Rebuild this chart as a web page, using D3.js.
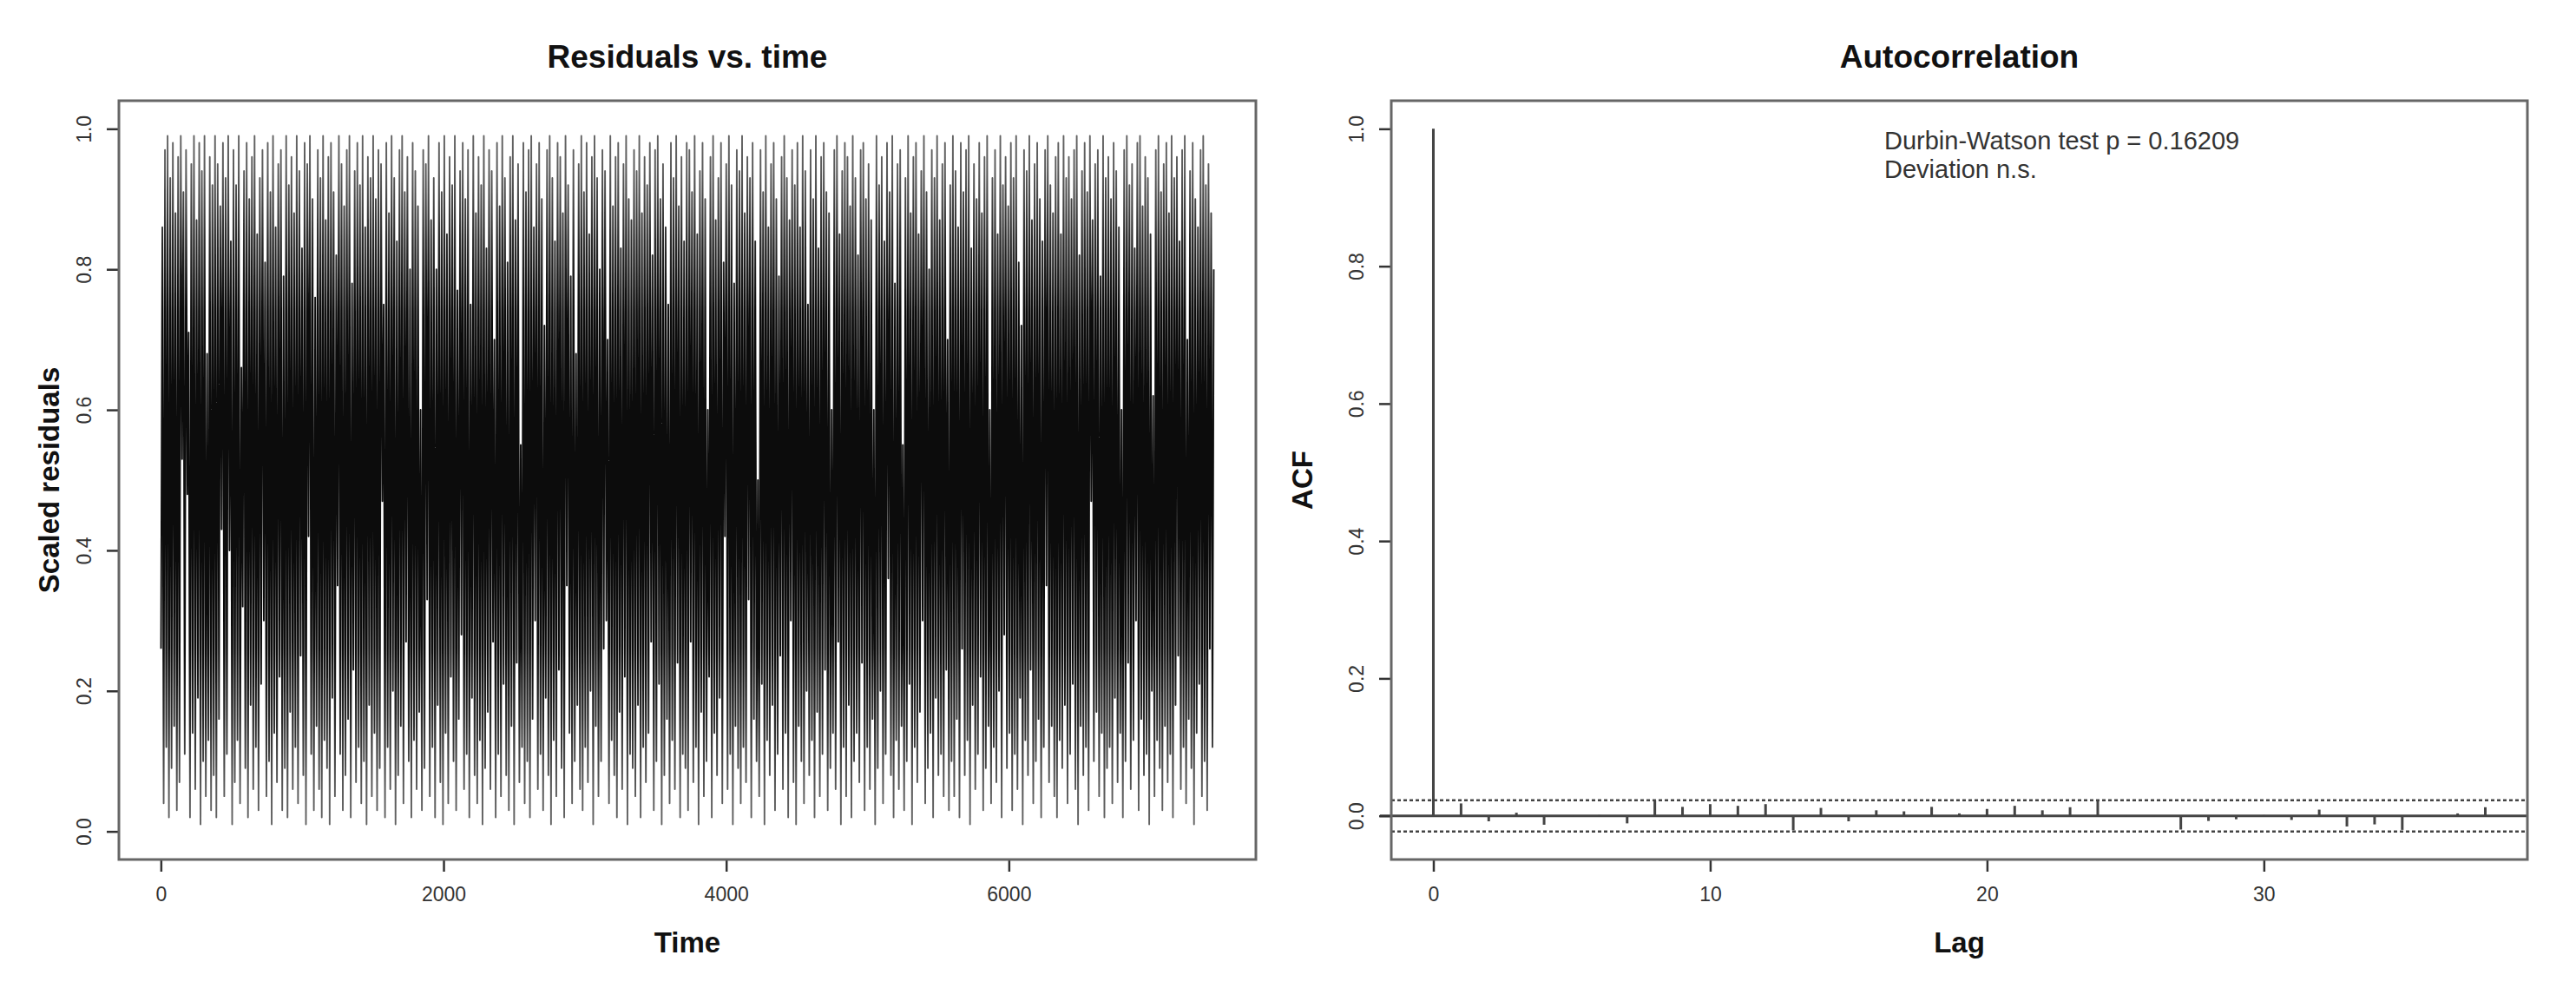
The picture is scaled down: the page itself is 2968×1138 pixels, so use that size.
<!DOCTYPE html>
<html><head><meta charset="utf-8">
<script src="https://cdn.jsdelivr.net/npm/d3@7"></script>
<style>
body{margin:0;background:#fff}
svg{display:block}
text{font-family:"Liberation Sans",Arial,Helvetica,sans-serif}
</style>
</head><body>
<svg id="chart" width="2968" height="1138"></svg>
<script>
// ---------------- data ----------------
const nObs = 7450;
// upper and lower excursions of the residual series, read per time slice (400 slices)
const residualHigh = [
0.86,0.97,0.99,0.93,0.98,0.88,0.96,0.99,0.91,0.97,0.71,0.95,0.99,0.87,0.98,0.94,0.99,0.68,0.96,0.92,
0.99,0.95,0.89,0.98,0.93,0.99,0.84,0.97,0.92,0.99,0.66,0.94,0.98,0.90,0.96,0.99,0.85,0.93,0.97,0.81,
0.98,0.91,0.99,0.86,0.95,0.97,0.79,0.99,0.92,0.96,0.88,0.99,0.94,0.83,0.98,0.95,0.99,0.90,0.76,0.97,
0.93,0.99,0.87,0.96,0.98,0.91,0.82,0.99,0.95,0.89,0.97,0.99,0.78,0.94,0.98,0.92,0.99,0.86,0.96,0.93,
0.99,0.90,0.97,0.95,0.75,0.98,0.88,0.99,0.93,0.84,0.97,0.99,0.91,0.96,0.80,0.98,0.94,0.89,0.60,0.97,
0.95,0.99,0.87,0.93,0.80,0.98,0.91,0.99,0.85,0.96,0.92,0.99,0.77,0.94,0.98,0.90,0.97,0.75,0.99,0.88,
0.96,0.92,0.99,0.83,0.97,0.94,0.70,0.98,0.89,0.99,0.93,0.81,0.96,0.99,0.87,0.95,0.55,0.98,0.91,0.97,
0.99,0.86,0.95,0.98,0.90,0.72,0.97,0.99,0.93,0.84,0.98,0.96,0.88,0.99,0.92,0.79,0.97,0.68,0.95,0.99,
0.91,0.98,0.85,0.96,0.99,0.93,0.80,0.97,0.94,0.70,0.99,0.89,0.96,0.98,0.83,0.95,0.99,0.90,0.87,0.97,
0.94,0.99,0.88,0.96,0.92,0.98,0.82,0.97,0.99,0.90,0.95,0.86,0.75,0.98,0.93,0.99,0.89,0.96,0.84,0.98,
0.97,0.91,0.99,0.85,0.94,0.98,0.90,0.60,0.96,0.99,0.87,0.93,0.98,0.81,0.95,0.99,0.92,0.78,0.97,0.94,
0.99,0.88,0.96,0.93,0.98,0.84,0.50,0.97,0.91,0.99,0.86,0.95,0.98,0.90,0.79,0.96,0.99,0.93,0.87,0.97,
0.92,0.98,0.86,0.99,0.94,0.75,0.97,0.90,0.99,0.83,0.96,0.98,0.91,0.88,0.60,0.97,0.99,0.85,0.94,0.98,
0.96,0.89,0.99,0.93,0.82,0.97,0.98,0.90,0.95,0.87,0.60,0.99,0.92,0.96,0.84,0.98,0.91,0.99,0.78,0.95,
0.97,0.55,0.93,0.99,0.88,0.96,0.98,0.85,0.94,0.99,0.91,0.80,0.97,0.93,0.99,0.87,0.95,0.98,0.70,0.92,
0.99,0.94,0.86,0.98,0.91,0.97,0.99,0.83,0.95,0.90,0.98,0.88,0.96,0.99,0.60,0.93,0.97,0.85,0.99,0.92,
0.96,0.89,0.98,0.93,0.99,0.81,0.72,0.97,0.94,0.99,0.87,0.95,0.98,0.90,0.84,0.97,0.99,0.92,0.88,0.96,
0.98,0.85,0.99,0.93,0.96,0.90,0.97,0.99,0.82,0.94,0.98,0.91,0.99,0.87,0.95,0.97,0.79,0.99,0.93,0.96,
0.90,0.98,0.94,0.86,0.60,0.97,0.99,0.92,0.95,0.83,0.98,0.99,0.89,0.96,0.93,0.85,0.62,0.97,0.99,0.91,
0.95,0.98,0.88,0.99,0.93,0.96,0.84,0.97,0.99,0.70,0.94,0.98,0.90,0.86,0.97,0.99,0.92,0.95,0.88,0.80
];
const residualLow = [
0.26,0.04,0.12,0.02,0.09,0.15,0.03,0.07,0.53,0.11,0.48,0.02,0.14,0.06,0.19,0.01,0.10,0.05,0.13,0.03,
0.08,0.02,0.16,0.43,0.05,0.11,0.40,0.01,0.07,0.13,0.04,0.32,0.09,0.02,0.18,0.06,0.12,0.03,0.21,0.30,
0.05,0.10,0.01,0.14,0.07,0.22,0.03,0.09,0.02,0.17,0.06,0.12,0.04,0.25,0.08,0.01,0.42,0.11,0.03,0.15,
0.06,0.02,0.13,0.09,0.01,0.19,0.05,0.35,0.11,0.03,0.08,0.16,0.02,0.23,0.07,0.12,0.04,0.10,0.01,0.18,
0.05,0.14,0.03,0.09,0.47,0.02,0.12,0.06,0.20,0.01,0.08,0.15,0.04,0.27,0.10,0.02,0.13,0.06,0.17,0.03,
0.09,0.33,0.05,0.12,0.02,0.18,0.07,0.01,0.14,0.04,0.22,0.10,0.03,0.16,0.28,0.06,0.11,0.02,0.19,0.08,
0.04,0.13,0.01,0.09,0.17,0.06,0.27,0.02,0.11,0.05,0.21,0.08,0.03,0.15,0.01,0.24,0.07,0.12,0.04,0.10,
0.02,0.16,0.30,0.06,0.11,0.03,0.19,0.08,0.01,0.13,0.05,0.23,0.09,0.02,0.35,0.14,0.04,0.10,0.18,0.06,
0.03,0.12,0.07,0.20,0.01,0.15,0.05,0.10,0.26,0.30,0.04,0.13,0.08,0.02,0.17,0.06,0.22,0.01,0.11,0.09,
0.05,0.18,0.02,0.12,0.07,0.14,0.27,0.03,0.10,0.21,0.01,0.08,0.16,0.04,0.13,0.06,0.24,0.02,0.11,0.09,
0.03,0.27,0.07,0.12,0.01,0.17,0.05,0.10,0.22,0.02,0.14,0.08,0.19,0.04,0.42,0.06,0.11,0.01,0.15,0.09,
0.04,0.12,0.07,0.33,0.02,0.16,0.10,0.05,0.21,0.01,0.13,0.08,0.18,0.03,0.11,0.25,0.06,0.14,0.02,0.30,
0.07,0.01,0.15,0.10,0.04,0.20,0.08,0.13,0.02,0.17,0.05,0.11,0.23,0.03,0.09,0.14,0.06,0.27,0.01,0.12,
0.05,0.18,0.02,0.10,0.14,0.07,0.24,0.03,0.12,0.06,0.16,0.01,0.09,0.20,0.04,0.11,0.36,0.08,0.02,0.13,
0.06,0.15,0.03,0.10,0.21,0.01,0.12,0.07,0.17,0.30,0.04,0.09,0.14,0.02,0.19,0.08,0.11,0.05,0.23,0.03,
0.10,0.05,0.16,0.02,0.26,0.08,0.13,0.01,0.18,0.06,0.11,0.22,0.03,0.09,0.15,0.04,0.12,0.07,0.20,0.02,
0.28,0.09,0.14,0.03,0.11,0.06,0.19,0.01,0.13,0.08,0.23,0.04,0.10,0.16,0.02,0.12,0.35,0.07,0.15,0.05,
0.02,0.13,0.09,0.18,0.04,0.11,0.21,0.06,0.01,0.15,0.08,0.12,0.03,0.47,0.10,0.17,0.05,0.14,0.02,0.09,
0.12,0.04,0.19,0.07,0.14,0.02,0.10,0.24,0.06,0.13,0.30,0.03,0.16,0.08,0.11,0.01,0.20,0.05,0.13,0.09,
0.03,0.15,0.07,0.11,0.02,0.18,0.25,0.06,0.12,0.04,0.16,0.09,0.01,0.14,0.21,0.05,0.10,0.03,0.26,0.12
];
const acfLags = [0,1,2,3,4,5,6,7,8,9,10,11,12,13,14,15,16,17,18,19,20,21,22,23,24,25,26,27,28,29,30,31,32,33,34,35,36,37,38];
const acfValues = [1.000,0.018,-0.008,0.0045,-0.013,-0.0015,0.001,-0.011,0.0225,0.013,0.017,0.0145,0.017,-0.021,
0.0115,-0.008,0.008,0.0065,0.013,0.0035,0.010,0.0145,0.008,0.0125,0.0215,-0.0012,-0.0015,-0.020,-0.0075,-0.005,
0.001,-0.006,0.009,-0.0155,-0.0125,-0.0205,0.0005,0.0035,0.0125];
const timeTicks = [0,2000,4000,6000];
const residualTicks = [0,0.2,0.4,0.6,0.8,1.0];
const lagTicks = [0,10,20,30];
const acfTicks = [0,0.2,0.4,0.6,0.8,1.0];
const dwLines = ["Durbin-Watson test p = 0.16209","Deviation n.s."];
const leftTitle = "Residuals vs. time", rightTitle = "Autocorrelation";
const leftXLabel = "Time", leftYLabel = "Scaled residuals", rightXLabel = "Lag", rightYLabel = "ACF";

// ---------------- layout ----------------
const svg = d3.select("#chart");
const L = {x0:137, x1:1447, y0:116, y1:990};
const R = {x0:1603, x1:2912, y0:116, y1:990};
const boxColor = "#666", inkColor = "#333";

// residual series (alternating low / high excursions over time)
const series = [];
residualHigh.forEach((h,i)=>{ series.push(residualLow[i]); series.push(h); });
const nPts = series.length;
const seriesData = series.map((v,j)=>({t: 1 + j*(nObs-1)/(nPts-1), v}));

const padT = 0.04*(nObs-1);
const xL = d3.scaleLinear().domain([1-padT, nObs+padT]).range([L.x0, L.x1]);
const yL = d3.scaleLinear().domain([-0.04, 1.04]).range([L.y1, L.y0]);

const conf = 1.96/Math.sqrt(nObs);
const acfLo = Math.min(-conf, d3.min(acfValues)), acfHi = Math.max(conf, d3.max(acfValues));
const acfPad = 0.04*(acfHi-acfLo);
const lagPad = 0.04*(d3.max(acfLags)-d3.min(acfLags));
const xR = d3.scaleLinear().domain([d3.min(acfLags)-lagPad, d3.max(acfLags)+lagPad]).range([R.x0, R.x1]);
const yR = d3.scaleLinear().domain([acfLo-acfPad, acfHi+acfPad]).range([R.y1, R.y0]);

// ---------------- left panel ----------------
// vertical shading of the dense trace: solid in the middle, greyer at the extremes (as in the blurred original)
const defs = svg.append("defs");
const grad = defs.append("linearGradient").attr("id","resGrad").attr("gradientUnits","userSpaceOnUse")
  .attr("x1",0).attr("x2",0).attr("y1",yL(1.04)).attr("y2",yL(-0.04));
const shade = [[1.04,"#6a6a6a"],[0.94,"#5a5a5a"],[0.84,"#2a2a2a"],[0.74,"#0c0c0c"],[0.26,"#0c0c0c"],[0.16,"#2a2a2a"],[0.06,"#5a5a5a"],[-0.04,"#6a6a6a"]];
grad.selectAll("stop").data(shade).join("stop")
  .attr("offset",d=>(yL(d[0])-yL(1.04))/(yL(-0.04)-yL(1.04))).attr("stop-color",d=>d[1]);

const gL = svg.append("g");
gL.append("path").datum(seriesData)
  .attr("fill","none").attr("stroke","url(#resGrad)").attr("stroke-width",1.9).attr("stroke-linejoin","round")
  .attr("d", d3.line().x(d=>xL(d.t)).y(d=>yL(d.v)));

function styleAxis(g){
  g.select(".domain").remove();
  g.selectAll(".tick line").attr("stroke",inkColor).attr("stroke-width",2.5);
  g.selectAll(".tick text").attr("fill",inkColor).style("font-size","23px");
}
const axLB = gL.append("g").attr("transform",`translate(0,${L.y1})`)
  .call(d3.axisBottom(xL).tickValues(timeTicks).tickSize(14).tickFormat(d3.format("d")));
styleAxis(axLB); axLB.selectAll(".tick text").attr("y",48).attr("dy",0);
const axLL = gL.append("g").attr("transform",`translate(${L.x0},0)`)
  .call(d3.axisLeft(yL).tickValues(residualTicks).tickSize(14).tickFormat(d3.format(".1f")));
styleAxis(axLL);
axLL.selectAll(".tick text").attr("x",0).attr("y",-32).attr("dy",0).attr("text-anchor","middle").attr("transform","rotate(-90)");

gL.append("rect").attr("x",L.x0).attr("y",L.y0).attr("width",L.x1-L.x0).attr("height",L.y1-L.y0)
  .attr("fill","none").attr("stroke",boxColor).attr("stroke-width",3);

gL.append("text").attr("x",(L.x0+L.x1)/2).attr("y",78).attr("text-anchor","middle")
  .style("font-size","37px").style("font-weight","bold").attr("fill","#111").text(leftTitle);
gL.append("text").attr("x",(L.x0+L.x1)/2).attr("y",1097).attr("text-anchor","middle")
  .style("font-size","33px").style("font-weight","bold").attr("fill","#111").text(leftXLabel);
gL.append("text").attr("transform",`translate(68,${(L.y0+L.y1)/2}) rotate(-90)`).attr("text-anchor","middle")
  .style("font-size","33px").style("font-weight","bold").attr("fill","#111").text(leftYLabel);

// ---------------- right panel ----------------
const gR = svg.append("g");
gR.selectAll("line.conf").data([conf,-conf]).join("line").attr("class","conf")
  .attr("x1",R.x0).attr("x2",R.x1).attr("y1",d=>yR(d)).attr("y2",d=>yR(d))
  .attr("stroke","#444").attr("stroke-width",2.5).attr("stroke-dasharray","4,3");
gR.append("line").attr("x1",R.x0-13).attr("x2",R.x1).attr("y1",yR(0)).attr("y2",yR(0))
  .attr("stroke","#444").attr("stroke-width",3);
gR.selectAll("line.bar").data(acfLags).join("line").attr("class","bar")
  .attr("x1",d=>xR(d)).attr("x2",d=>xR(d)).attr("y1",yR(0)).attr("y2",(d,i)=>yR(acfValues[i]))
  .attr("stroke","#444").attr("stroke-width",3);

const axRB = gR.append("g").attr("transform",`translate(0,${R.y1})`)
  .call(d3.axisBottom(xR).tickValues(lagTicks).tickSize(14).tickFormat(d3.format("d")));
styleAxis(axRB); axRB.selectAll(".tick text").attr("y",48).attr("dy",0);
const axRL = gR.append("g").attr("transform",`translate(${R.x0},0)`)
  .call(d3.axisLeft(yR).tickValues(acfTicks).tickSize(14).tickFormat(d3.format(".1f")));
styleAxis(axRL);
axRL.selectAll(".tick text").attr("x",0).attr("y",-32).attr("dy",0).attr("text-anchor","middle").attr("transform","rotate(-90)");

gR.append("rect").attr("x",R.x0).attr("y",R.y0).attr("width",R.x1-R.x0).attr("height",R.y1-R.y0)
  .attr("fill","none").attr("stroke",boxColor).attr("stroke-width",3);

gR.append("text").attr("x",(R.x0+R.x1)/2).attr("y",78).attr("text-anchor","middle")
  .style("font-size","37px").style("font-weight","bold").attr("fill","#111").text(rightTitle);
gR.append("text").attr("x",(R.x0+R.x1)/2).attr("y",1097).attr("text-anchor","middle")
  .style("font-size","33px").style("font-weight","bold").attr("fill","#111").text(rightXLabel);
gR.append("text").attr("transform",`translate(1512,${(R.y0+R.y1)/2}) rotate(-90)`).attr("text-anchor","middle")
  .style("font-size","33px").style("font-weight","bold").attr("fill","#111").text(rightYLabel);

gR.selectAll("text.dw").data(dwLines).join("text").attr("class","dw")
  .attr("x",2171).attr("y",(d,i)=>172+i*33)
  .style("font-size","29px").attr("fill","#333").text(d=>d);
</script>
</body></html>
